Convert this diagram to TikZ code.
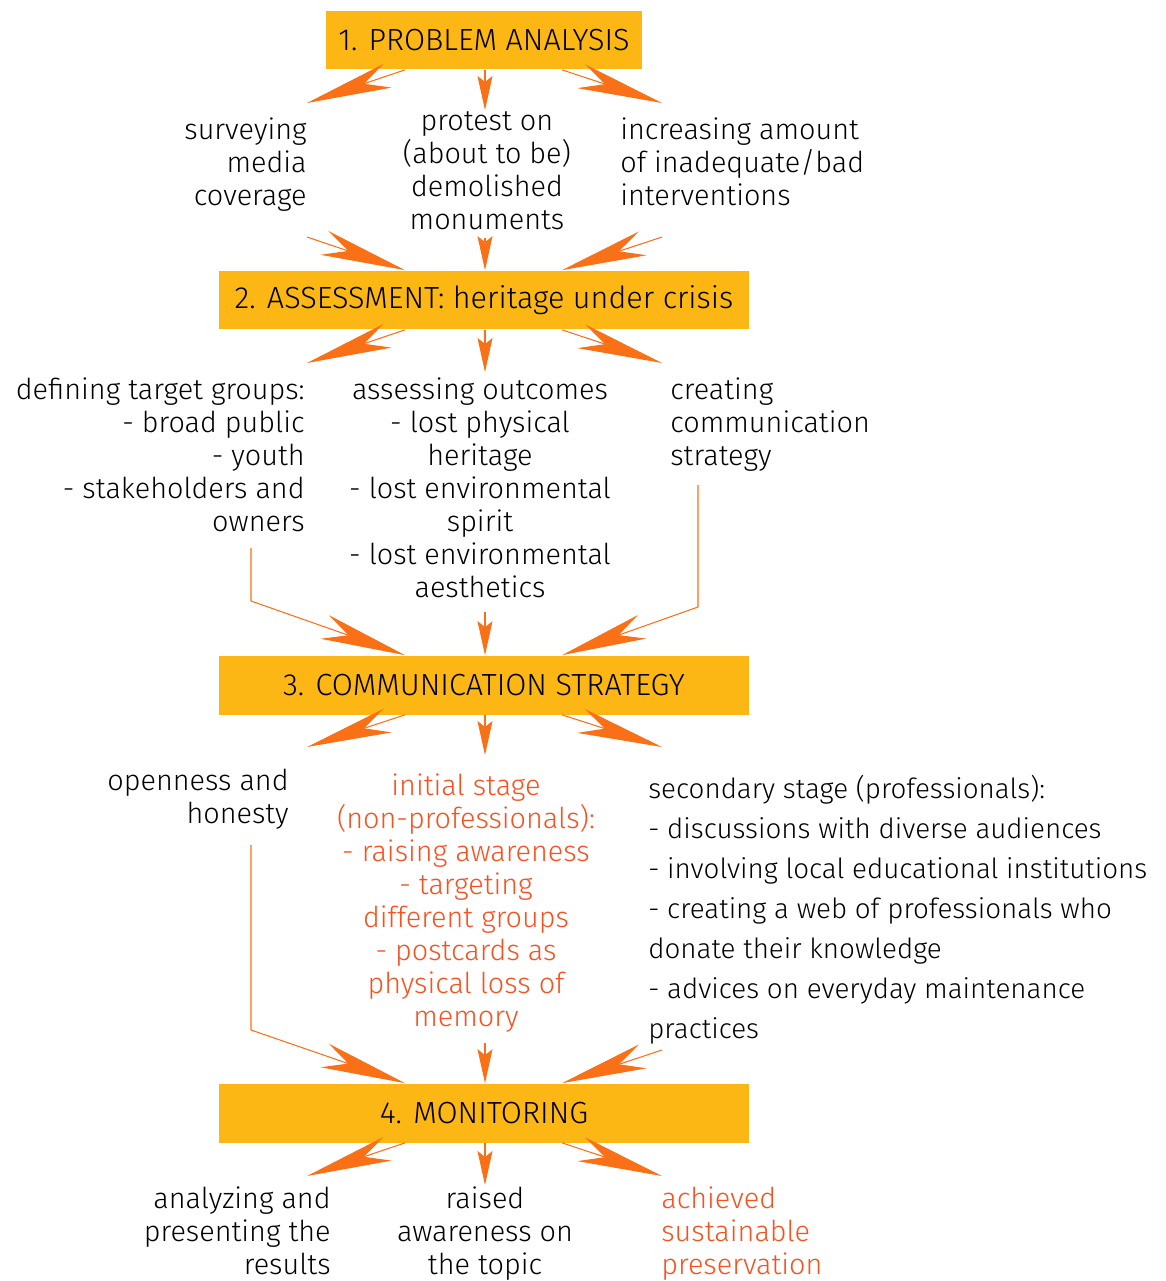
\documentclass[tikz,border=0pt]{standalone}
\usepackage{fontspec}
\setmainfont{Fira Sans}[UprightFont=* Light]
\usetikzlibrary{arrows.meta,calc}
\definecolor{boxyellow}{RGB}{252,183,20}
\definecolor{arroworange}{RGB}{250,112,22}
\definecolor{textred}{RGB}{245,82,32}
\begin{document}
\begin{tikzpicture}[x=0.02cm, y=-0.02cm,
		stagebox/.style={fill=boxyellow, minimum height=1.18cm, inner sep=0pt, font=\fontsize{17.4}{20}\selectfont},
		txt/.style={inner sep=0pt, font=\fontsize{16.4}{18.8}\selectfont},
		bigarrow/.style={draw=arroworange, line width=0.6pt, -{Stealth[length=1.7cm, width=0.5cm, inset=0.5cm, fill=arroworange]}},
		smallarrow/.style={draw=arroworange, line width=0.6pt, -{Stealth[length=0.68cm, width=0.3cm, inset=0.12cm, fill=arroworange]}}]
	\useasboundingbox (0,0) rectangle (1166,1281);
	% the four stages
	\node[stagebox, minimum width=6.32cm] (problem) at (484,40) {1. PROBLEM ANALYSIS};
	\node[stagebox, minimum width=10.6cm] (assess) at (484,300) {2. ASSESSMENT: heritage under crisis};
	\node[stagebox, minimum width=10.6cm] (comm) at (484,685) {3. COMMUNICATION STRATEGY};
	\node[stagebox, minimum width=10.6cm] (monitor) at (484,1113) {4. MONITORING};
	% texts under stage 1
	\node[txt, anchor=north east, align=right] (survey) at (307,117) {surveying\\media\\coverage};
	\node[txt, anchor=north, align=center] (protest) at (487,111) {protest on\\(about to be)\\demolished\\monuments};
	\node[txt, anchor=north west, align=left] (increase) at (620,117) {increasing amount\\of inadequate/bad\\interventions};
	% texts under stage 2
	\node[txt, anchor=north east, align=right] (groups) at (305,377) {defining target groups:\\- broad public\\- youth\\- stakeholders and\\owners};
	\node[txt, anchor=north, align=center] (outcomes) at (480,377) {assessing outcomes\\- lost physical\\heritage\\- lost environmental\\spirit\\- lost environmental\\aesthetics};
	\node[txt, anchor=north west, align=left] (creating) at (670,377) {creating\\communication\\strategy};
	% texts under stage 3
	\node[txt, anchor=north east, align=right] (openness) at (289,769) {openness and\\honesty};
	\node[txt, anchor=north, align=center, textred] (initial) at (466,773) {initial stage\\(non-professionals):\\- raising awareness\\- targeting\\different groups\\- postcards as\\physical loss of\\memory};
	\node[txt, anchor=north west, align=left, font=\fontsize{15.8}{22.8}\selectfont] (secondary) at (648,775) {secondary stage (professionals):\\- discussions with diverse audiences\\- involving local educational institutions\\- creating a web of professionals who\\donate their knowledge\\- advices on everyday maintenance\\practices};
	% texts under stage 4
	\node[txt, anchor=north east, align=right] (analyzing) at (331,1186) {analyzing and\\presenting the\\results};
	\node[txt, anchor=north, align=center] (raised) at (485,1186) {raised\\awareness on\\the topic};
	\node[txt, anchor=north west, align=left, textred] (achieved) at (661,1186) {achieved\\sustainable\\preservation};
	% arrow ends
	\coordinate (p1) at (307,103);
	\coordinate (p2) at (485,110);
	\coordinate (p3) at (662,103);
	\coordinate (a1) at (307,237);
	\coordinate (a2) at (485,238);
	\coordinate (a3) at (662,237);
	\coordinate (b1) at (307,363);
	\coordinate (b2) at (485,372);
	\coordinate (b3) at (662,363);
	\coordinate (c1) at (251,548);
	\coordinate (c1k) at (251,601);
	\coordinate (c2) at (485,612);
	\coordinate (c3) at (698,485);
	\coordinate (c3k) at (698,607);
	\coordinate (d1) at (307,747);
	\coordinate (d2) at (485,755);
	\coordinate (d3) at (662,747);
	\coordinate (e1) at (251,845);
	\coordinate (e1k) at (251,1030);
	\coordinate (e2) at (485,1043);
	\coordinate (e3) at (662,1050);
	\coordinate (f1) at (307,1176);
	\coordinate (f2) at (485,1185);
	\coordinate (f3) at (662,1176);
	% stage 1 -> texts -> stage 2
	\draw[bigarrow] ($(problem.south)+(-79,0)$) -- (p1);
	\draw[smallarrow] ($(problem.south)+(1,0)$) -- (p2);
	\draw[bigarrow] ($(problem.south)+(78,0)$) -- (p3);
	\draw[bigarrow] (a1) -- ($(assess.north)+(-79,0)$);
	\draw[smallarrow] (a2) -- ($(assess.north)+(1,0)$);
	\draw[bigarrow] (a3) -- ($(assess.north)+(78,0)$);
	% stage 2 -> texts -> stage 3
	\draw[bigarrow] ($(assess.south)+(-79,0)$) -- (b1);
	\draw[smallarrow] ($(assess.south)+(1,0)$) -- (b2);
	\draw[bigarrow] ($(assess.south)+(78,0)$) -- (b3);
	\draw[bigarrow] (c1) -- (c1k) -- ($(comm.north)+(-79,0)$);
	\draw[smallarrow] (c2) -- ($(comm.north)+(1,0)$);
	\draw[bigarrow] (c3) -- (c3k) -- ($(comm.north)+(78,0)$);
	% stage 3 -> texts -> stage 4
	\draw[bigarrow] ($(comm.south)+(-79,0)$) -- (d1);
	\draw[smallarrow] ($(comm.south)+(1,0)$) -- (d2);
	\draw[bigarrow] ($(comm.south)+(78,0)$) -- (d3);
	\draw[bigarrow] (e1) -- (e1k) -- ($(monitor.north)+(-79,0)$);
	\draw[smallarrow] (e2) -- ($(monitor.north)+(1,0)$);
	\draw[bigarrow] (e3) -- ($(monitor.north)+(78,0)$);
	% stage 4 -> results
	\draw[bigarrow] ($(monitor.south)+(-79,0)$) -- (f1);
	\draw[smallarrow] ($(monitor.south)+(1,0)$) -- (f2);
	\draw[bigarrow] ($(monitor.south)+(78,0)$) -- (f3);
\end{tikzpicture}
\end{document}
